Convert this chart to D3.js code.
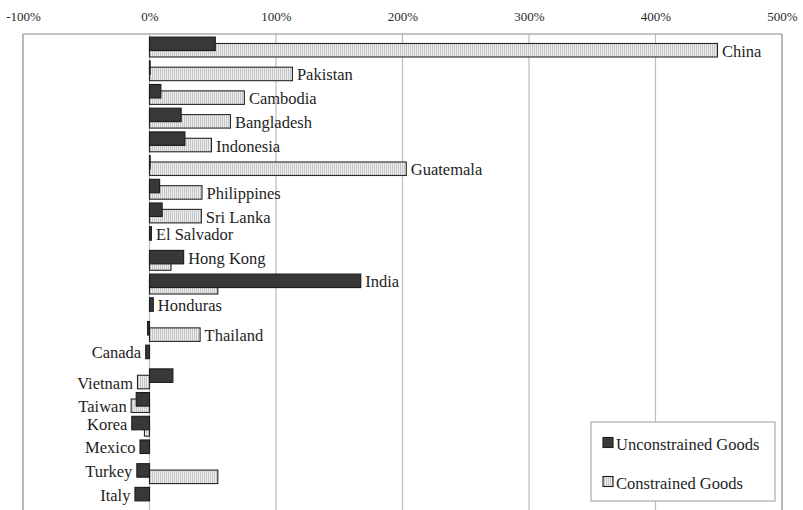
<!DOCTYPE html>
<html>
<head>
<meta charset="utf-8">
<script src="https://cdn.jsdelivr.net/npm/d3@7"></script>
<style>
  html, body { margin: 0; padding: 0; background: #fff; }
  svg { display: block; }
</style>
</head>
<body>
<svg id="chart" width="803" height="510"></svg>
<script>
// Change in imports by source country, percent
const categories = ["China", "Pakistan", "Cambodia", "Bangladesh", "Indonesia", "Guatemala",
  "Philippines", "Sri Lanka", "El Salvador", "Hong Kong", "India", "Honduras", "Thailand",
  "Canada", "Vietnam", "Taiwan", "Korea", "Mexico", "Turkey", "Italy"];
const unconstrained = [52, 0.5, 9, 25, 28, 0.5, 8, 10, 1.5, 27, 167, 3, -1.5, -3, 18.5, -10.5, -14, -7.5, -10, -11.5];
const constrained = [449, 113, 75, 64, 49, 203, 41.5, 41, 0, 17, 54, 0, 40, 0, -9.5, -14.5, -4, 0, 54, 0];
const labelSide = ["right", "right", "right", "right", "right", "right", "right", "right", "right",
  "right", "right", "right", "right", "left", "left", "left", "left", "left", "left", "left"];
const seriesNames = ["Unconstrained Goods", "Constrained Goods"];
const tickValues = [-100, 0, 100, 200, 300, 400, 500];

const svg = d3.select("#chart");
const font = "'Liberation Serif', 'Times New Roman', serif";
const plotLeft = 23, plotRight = 782, plotTop = 34, rowStep = 23.7;

const x = d3.scaleLinear().domain([-100, 500]).range([plotLeft, plotRight]);
const y = d3.scaleBand().domain(categories)
  .range([plotTop, plotTop + rowStep * categories.length]).paddingInner(0).paddingOuter(0);

const bw = y.bandwidth();
const barH = bw * 0.57;
const offDark = bw * 0.13;
const offLight = bw * 0.40;

// Hatched fill for the constrained series
const defs = svg.append("defs");
const pat = defs.append("pattern").attr("id", "hatch")
  .attr("patternUnits", "userSpaceOnUse").attr("width", 2).attr("height", 4);
pat.append("rect").attr("width", 2).attr("height", 4).attr("fill", "#ececec");
pat.append("rect").attr("width", 1).attr("height", 4).attr("fill", "#c6c6c6");

// Gridlines and frame
const gridBottom = 520;
svg.append("g").selectAll("line").data(tickValues).join("line")
  .attr("x1", d => x(d)).attr("x2", d => x(d))
  .attr("y1", plotTop).attr("y2", gridBottom)
  .attr("stroke", d => (d === -100 || d === 500) ? "#8a8a8a" : "#bdbdbd")
  .attr("stroke-width", 1.2);
svg.append("line").attr("x1", plotLeft).attr("x2", plotRight).attr("y1", plotTop).attr("y2", plotTop)
  .attr("stroke", "#8a8a8a").attr("stroke-width", 1.2);

// Top axis tick labels
const axis = svg.append("g").attr("transform", `translate(0,${plotTop})`)
  .call(d3.axisTop(x).tickValues(tickValues).tickSize(0).tickPadding(13).tickFormat(d => d + "%"));
axis.select(".domain").remove();
axis.selectAll("text").attr("font-family", font).attr("font-size", 13).attr("fill", "#2a2a2a");

const rows = categories.map((c, i) => ({ c, u: unconstrained[i], k: constrained[i], side: labelSide[i] }));

function barX(v) { return Math.min(x(0), x(v)); }
function barW(v) { return Math.abs(x(v) - x(0)); }

// Constrained bars (behind)
svg.append("g").selectAll("rect").data(rows).join("rect")
  .attr("x", d => barX(d.k)).attr("width", d => barW(d.k))
  .attr("y", d => y(d.c) + offLight).attr("height", barH)
  .attr("fill", "url(#hatch)").attr("stroke", "#262626").attr("stroke-width", 1.1);

// Unconstrained bars (front)
svg.append("g").selectAll("rect").data(rows).join("rect")
  .attr("x", d => barX(d.u)).attr("width", d => barW(d.u))
  .attr("y", d => y(d.c) + offDark).attr("height", barH)
  .attr("fill", "#383838").attr("stroke", "#1a1a1a").attr("stroke-width", 1.1);

// Country labels beside the outermost bar on the labelled side
svg.append("g").selectAll("text").data(rows).join("text")
  .attr("font-family", font).attr("font-size", 16.5).attr("fill", "#1e1e1e")
  .attr("dominant-baseline", "central")
  .attr("text-anchor", d => d.side === "right" ? "start" : "end")
  .each(function (d) {
    let useDark, end;
    if (d.side === "right") {
      useDark = d.u >= d.k;
      end = x(Math.max(d.u, d.k, 0)) + 4.5;
    } else {
      useDark = d.u <= d.k;
      end = x(Math.min(d.u, d.k, 0)) - 4.5;
    }
    const cy = y(d.c) + (useDark ? offDark : offLight) + barH / 2 + 1;
    d3.select(this).attr("x", end).attr("y", cy);
  })
  .text(d => d.c);

// Legend
const lg = svg.append("g");
lg.append("rect").attr("x", 591).attr("y", 422).attr("width", 184).attr("height", 79)
  .attr("fill", "#fff").attr("stroke", "#9a9a9a").attr("stroke-width", 1);
const fills = ["#383838", "url(#hatch)"];
seriesNames.forEach((name, i) => {
  const cy = 443 + i * 39;
  lg.append("rect").attr("x", 603).attr("y", cy - 5.5).attr("width", 10).attr("height", 10)
    .attr("fill", fills[i]).attr("stroke", "#1a1a1a").attr("stroke-width", 1.1);
  lg.append("text").attr("x", 616).attr("y", cy + 1)
    .attr("dominant-baseline", "central")
    .attr("font-family", font).attr("font-size", 16.5).attr("fill", "#1e1e1e")
    .text(name);
});
</script>
</body>
</html>
